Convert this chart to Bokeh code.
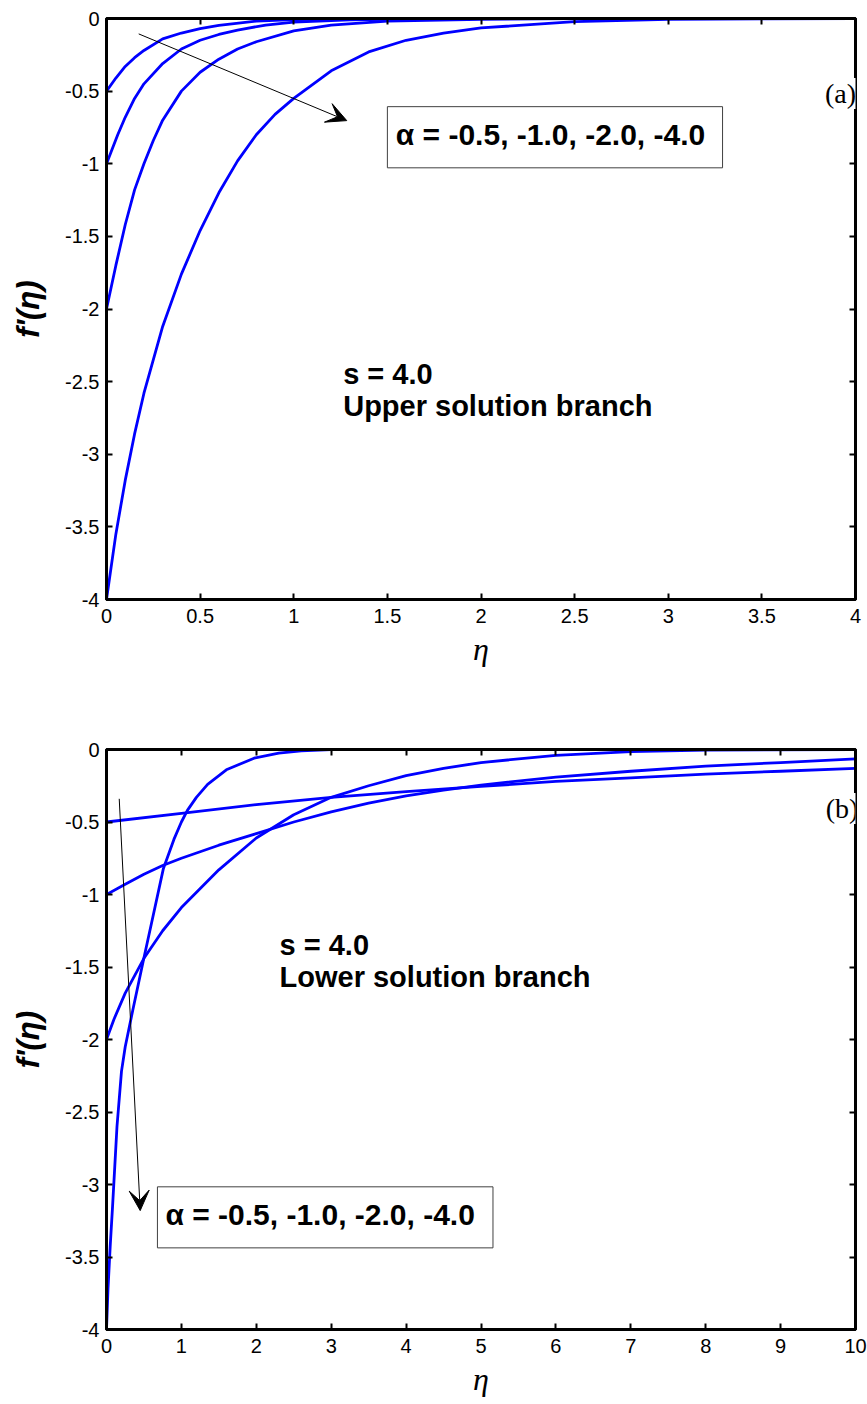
import math
from bokeh.plotting import figure
from bokeh.models import (Range1d, FixedTicker, NumeralTickFormatter, LinearAxis,
                          Label, BoxAnnotation, Arrow, VeeHead)
from bokeh.layouts import column
from bokeh.embed import file_html
from bokeh.resources import INLINE

# ---------------- data ----------------
alpha_labels = ["-0.5", "-1.0", "-2.0", "-4.0"]

# (a) upper solution branch, s = 4.0, eta in [0, 4]
up_eta_a05 = [0, 0.05, 0.1, 0.15, 0.2, 0.3, 0.4, 0.5, 0.6, 0.8, 1.0, 1.5, 2.0, 4.0]
up_f_a05 = [-0.5, -0.41, -0.33, -0.27, -0.22, -0.14, -0.1, -0.07, -0.048, -0.018, -0.008, -0.002, 0, 0]

up_eta_a1 = [0, 0.03, 0.06, 0.1, 0.15, 0.2, 0.3, 0.4, 0.5, 0.6, 0.7, 0.85, 1.0, 1.3, 1.6, 2.0, 4.0]
up_f_a1 = [-1, -0.9, -0.8, -0.68, -0.55, -0.45, -0.31, -0.21, -0.15, -0.11, -0.08, -0.045, -0.025, -0.01, -0.004, 0, 0]

up_eta_a2 = [0, 0.025, 0.05, 0.1, 0.15, 0.2, 0.25, 0.3, 0.4, 0.5, 0.6, 0.7, 0.8, 1.0, 1.2, 1.5, 2.0, 2.5, 4.0]
up_f_a2 = [-2, -1.85, -1.7, -1.42, -1.18, -1.0, -0.84, -0.7, -0.5, -0.37, -0.28, -0.21, -0.16, -0.085, -0.045, -0.018, -0.005, 0, 0]

up_eta_a4 = [0, 0.05, 0.1, 0.15, 0.2, 0.3, 0.4, 0.5, 0.6, 0.7, 0.8, 0.9, 1.0, 1.2, 1.4, 1.6, 1.8, 2.0, 2.5, 3.0, 4.0]
up_f_a4 = [-4, -3.55, -3.18, -2.86, -2.58, -2.12, -1.76, -1.46, -1.2, -0.98, -0.8, -0.66, -0.55, -0.36, -0.23, -0.15, -0.1, -0.065, -0.022, -0.006, 0]

# (b) lower solution branch, s = 4.0, eta in [0, 10]
lo_eta_a05 = [0, 1, 2, 3, 4, 5, 6, 7, 8, 9, 10]
lo_f_a05 = [-0.5, -0.44, -0.38, -0.33, -0.29, -0.255, -0.22, -0.195, -0.17, -0.15, -0.13]

lo_eta_a1 = [0, 0.25, 0.5, 0.75, 1, 1.5, 2, 2.5, 3, 3.5, 4, 4.5, 5, 6, 7, 8, 9, 10]
lo_f_a1 = [-1, -0.93, -0.86, -0.8, -0.75, -0.66, -0.58, -0.5, -0.43, -0.37, -0.32, -0.28, -0.245, -0.19, -0.15, -0.115, -0.09, -0.065]

lo_eta_a2 = [0, 0.1, 0.25, 0.5, 0.75, 1, 1.5, 2, 2.5, 3, 3.5, 4, 4.5, 5, 6, 7, 8, 10]
lo_f_a2 = [-2, -1.86, -1.68, -1.44, -1.25, -1.09, -0.83, -0.61, -0.45, -0.33, -0.25, -0.18, -0.13, -0.09, -0.04, -0.015, -0.004, 0]

lo_eta_a4 = [0, 0.02, 0.05, 0.08, 0.11, 0.14, 0.2, 0.25, 0.35, 0.49, 0.6, 0.76, 0.9, 1.0, 1.08, 1.2,
             1.35, 1.6, 1.97, 2.3, 2.6, 3, 10]
lo_f_a4 = [-4, -3.72, -3.42, -3.16, -2.88, -2.6, -2.22, -2.05, -1.8, -1.46, -1.2, -0.82, -0.62, -0.5, -0.42, -0.33,
           -0.24, -0.14, -0.06, -0.025, -0.01, 0, 0]

x_ticks_a = [0, 0.5, 1, 1.5, 2, 2.5, 3, 3.5, 4]
x_ticks_b = [0, 1, 2, 3, 4, 5, 6, 7, 8, 9, 10]
y_ticks = [-4, -3.5, -3, -2.5, -2, -1.5, -1, -0.5, 0]

legend_text = "\u03b1 = " + ", ".join(alpha_labels)

# ---------------- styling helpers ----------------
BLUE = "#0000ff"
SANS = "Liberation Sans"


def style_axis(ax, ticks, show_labels):
    ax.ticker = FixedTicker(ticks=ticks)
    ax.axis_line_width = 3
    ax.axis_line_color = "black"
    ax.major_tick_in = 6
    ax.major_tick_out = 0
    ax.major_tick_line_width = 2
    ax.minor_tick_line_color = None
    ax.major_label_text_font = SANS
    ax.major_label_text_color = "black"
    if show_labels:
        ax.formatter = NumeralTickFormatter(format="0.[0]")
        ax.major_label_text_font_size = "20px"
        ax.major_label_standoff = 7
    else:
        ax.major_label_overrides = {t: "" for t in ticks}
        ax.major_label_text_font_size = "1px"
        ax.major_label_standoff = 0


def make_fig(xmax, xticks, height, b_top, b_bottom):
    p = figure(width=867, height=height, x_range=Range1d(0, xmax), y_range=Range1d(-4, 0),
               output_backend="svg", toolbar_location=None,
               min_border_left=106, min_border_right=12,
               min_border_top=b_top, min_border_bottom=b_bottom,
               x_axis_location=None, y_axis_location=None)
    p.xgrid.visible = False
    p.ygrid.visible = False
    p.outline_line_color = "black"
    p.outline_line_width = 3
    p.background_fill_color = None
    p.border_fill_color = "white"

    xb = LinearAxis(axis_label="\u03b7")
    style_axis(xb, xticks, True)
    xb.major_label_standoff = 9
    xb.axis_label_text_font = "Liberation Serif"
    xb.axis_label_text_font_style = "italic"
    xb.axis_label_text_font_size = "32px"
    xb.axis_label_text_color = "black"
    xb.axis_label_standoff = 5
    p.add_layout(xb, "below")

    yl = LinearAxis(axis_label="f'(\u03b7)")
    style_axis(yl, y_ticks, True)
    yl.axis_label_text_font = SANS
    yl.axis_label_text_font_style = "bold italic"
    yl.axis_label_text_font_size = "31px"
    yl.axis_label_text_color = "black"
    yl.axis_label_standoff = 16
    p.add_layout(yl, "left")

    xa = LinearAxis()
    style_axis(xa, xticks, False)
    p.add_layout(xa, "above")
    yr = LinearAxis()
    style_axis(yr, y_ticks, False)
    p.add_layout(yr, "right")
    return p


def text_label(x, y, text, size="29px", font=SANS, style="bold", **kw):
    return Label(x=x, y=y, text=text, text_font=font, text_font_style=style,
                 text_font_size=size, text_color="black", text_baseline="middle", **kw)


# ---------------- (a) upper branch ----------------
p1 = make_fig(4, x_ticks_a, 700, 18, 101)
for xs, ys in [(up_eta_a05, up_f_a05), (up_eta_a1, up_f_a1), (up_eta_a2, up_f_a2), (up_eta_a4, up_f_a4)]:
    p1.line(xs, ys, line_color=BLUE, line_width=2.8)

p1.add_layout(Arrow(end=VeeHead(size=20, fill_color="black", line_color="black", line_width=1),
                    x_start=0.172, y_start=-0.106, x_end=1.283, y_end=-0.703,
                    line_color="black", line_width=1))
p1.add_layout(BoxAnnotation(left=1.5, right=3.29, top=-0.607, bottom=-1.028,
                            fill_color="white", fill_alpha=1, line_color="#404040",
                            line_alpha=1, line_width=1))
p1.add_layout(text_label(1.545, -0.80, legend_text, size="30px"))
p1.add_layout(text_label(1.264, -2.45, "s = 4.0"))
p1.add_layout(text_label(1.264, -2.67, "Upper solution branch"))
p1.add_layout(text_label(3.92, -0.517, "(a)", size="28px", font="Liberation Serif", style="normal",
                         text_align="center", background_fill_color="white"))

# ---------------- (b) lower branch ----------------
p2 = make_fig(10, x_ticks_b, 704, 49, 75)
for xs, ys in [(lo_eta_a05, lo_f_a05), (lo_eta_a1, lo_f_a1), (lo_eta_a2, lo_f_a2), (lo_eta_a4, lo_f_a4)]:
    p2.line(xs, ys, line_color=BLUE, line_width=2.8)

p2.add_layout(Arrow(end=VeeHead(size=20, fill_color="black", line_color="black", line_width=1),
                    x_start=0.17, y_start=-0.34, x_end=0.45, y_end=-3.18,
                    line_color="black", line_width=1))
p2.add_layout(BoxAnnotation(left=0.68, right=5.16, top=-3.016, bottom=-3.437,
                            fill_color="white", fill_alpha=1, line_color="#404040",
                            line_alpha=1, line_width=1))
p2.add_layout(text_label(0.787, -3.21, legend_text, size="30px"))
p2.add_layout(text_label(2.31, -1.35, "s = 4.0"))
p2.add_layout(text_label(2.31, -1.57, "Lower solution branch"))
p2.add_layout(text_label(9.82, -0.407, "(b)", size="28px", font="Liberation Serif", style="normal",
                         text_align="center", background_fill_color="white"))

layout = column(p1, p2)
open("out.html", "w").write(file_html(layout, INLINE))
